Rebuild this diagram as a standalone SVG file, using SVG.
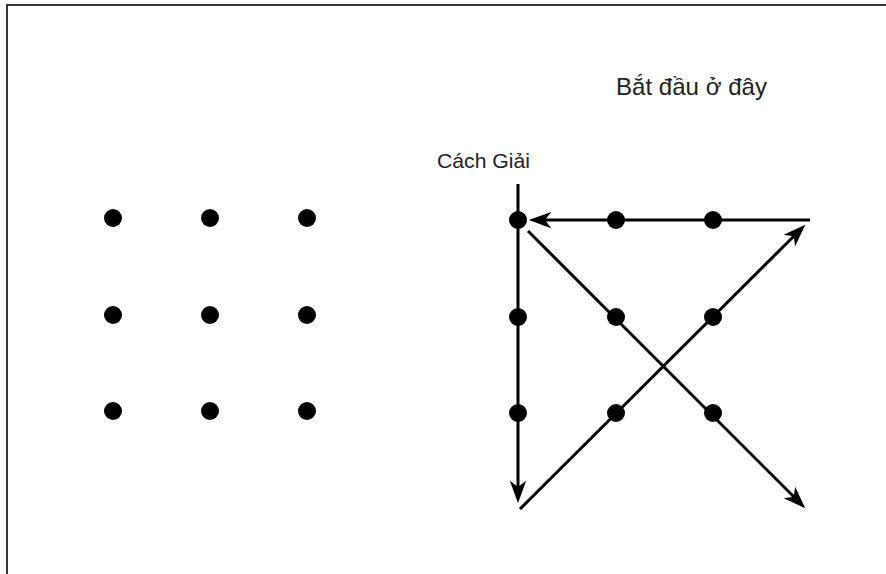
<svg xmlns="http://www.w3.org/2000/svg" width="886" height="574" viewBox="0 0 886 574">
  <style>
    .dot { fill: #000; }
    .conn { stroke: #000; stroke-width: 3; fill: none; }
    .lbl { font-family: "Liberation Sans", Arial, sans-serif; fill: #222; }
  </style>
  <defs>
    <marker id="arr" markerUnits="userSpaceOnUse" markerWidth="30" markerHeight="20" viewBox="-6 -8 20 16" refX="0" refY="0" orient="auto" overflow="visible">
      <path d="M13,0 L-5,-6.5 L0,0 L-5,6.5 Z" fill="#000"/>
    </marker>
  </defs>
  <rect x="7" y="5" width="900" height="600" fill="#fff" stroke="#333" stroke-width="2"/>

  <g id="left-grid">
    <circle id="l11" class="dot" cx="113" cy="218" r="9"/>
    <circle id="l12" class="dot" cx="210" cy="218" r="9"/>
    <circle id="l13" class="dot" cx="307" cy="218" r="9"/>
    <circle id="l21" class="dot" cx="113" cy="315" r="9"/>
    <circle id="l22" class="dot" cx="210" cy="315" r="9"/>
    <circle id="l23" class="dot" cx="307" cy="315" r="9"/>
    <circle id="l31" class="dot" cx="113" cy="411" r="9"/>
    <circle id="l32" class="dot" cx="210" cy="411" r="9"/>
    <circle id="l33" class="dot" cx="307" cy="411" r="9"/>
  </g>

  <g id="connectors">
    <path class="conn" d="M518,184 L518,487" marker-end="url(#arr)"/>
    <path class="conn" d="M810,220 L545,220" marker-end="url(#arr)"/>
    <path class="conn" d="M520,509 L793.8,236.2" marker-end="url(#arr)"/>
    <path class="conn" d="M528,231 L793.8,496.8" marker-end="url(#arr)"/>
  </g>

  <g id="right-grid">
    <circle id="r11" class="dot" cx="518" cy="220" r="9"/>
    <circle id="r12" class="dot" cx="616" cy="220" r="9"/>
    <circle id="r13" class="dot" cx="713" cy="220" r="9"/>
    <circle id="r21" class="dot" cx="518" cy="317" r="9"/>
    <circle id="r22" class="dot" cx="616" cy="317" r="9"/>
    <circle id="r23" class="dot" cx="713" cy="317" r="9"/>
    <circle id="r31" class="dot" cx="518" cy="413" r="9"/>
    <circle id="r32" class="dot" cx="616" cy="413" r="9"/>
    <circle id="r33" class="dot" cx="713" cy="413" r="9"/>
  </g>

  <g id="label-start">
    <text class="lbl" x="616" y="95" font-size="24" textLength="151" lengthAdjust="spacingAndGlyphs">Bắt đầu ở đây</text>
  </g>
  <g id="label-solution">
    <text class="lbl" x="437" y="168" font-size="21" textLength="93" lengthAdjust="spacingAndGlyphs">Cách Giải</text>
  </g>
</svg>
